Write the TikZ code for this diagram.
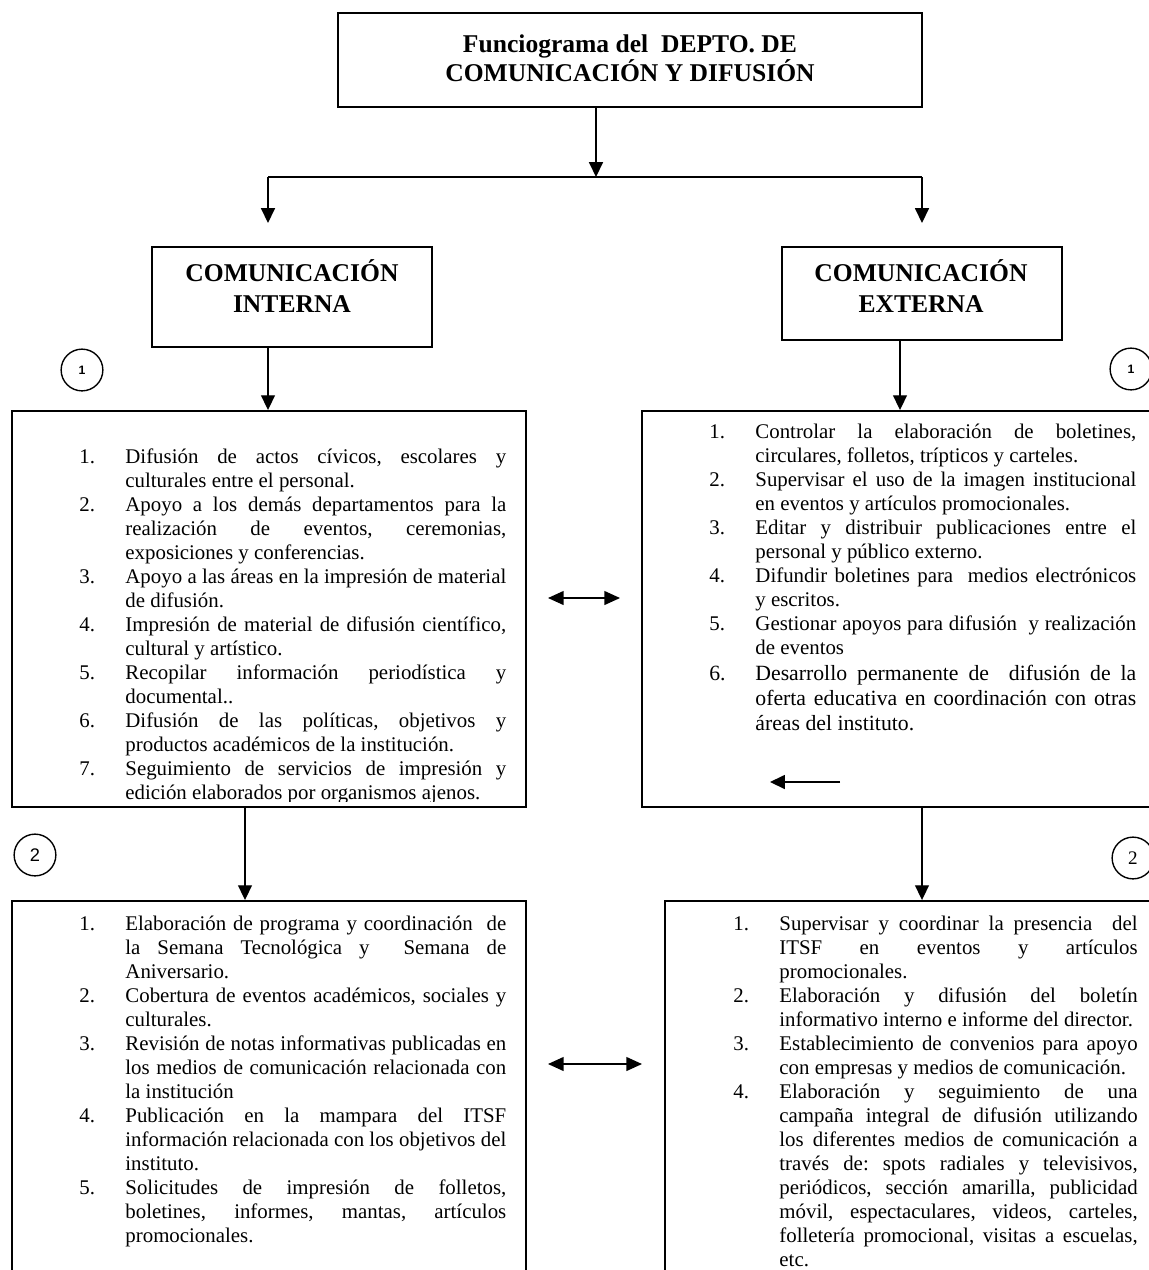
\documentclass[tikz,border=0pt]{standalone}
\usepackage{fontspec}
\setmainfont{Liberation Serif}
\newfontfamily\arialfont{Liberation Sans}
\usetikzlibrary{arrows.meta,fit}
\newcommand{\fitem}[2]{\noindent\tolerance=9999\relax\hyphenpenalty=10000\relax\frenchspacing
  \hangindent=26.5pt\hangafter=1\makebox[26.5pt][l]{#1}#2\par}
\tikzset{
  box/.style={draw, line width=1.1pt, inner sep=0pt},
  head/.style={align=center, font=\fontsize{14.7}{17.8}\selectfont\bfseries},
  titulo/.style={align=center, font=\fontsize{14.7}{15.5}\selectfont\bfseries},
  lista/.style={anchor=base west, inner sep=0pt, align=justify, font=\fontsize{12}{13.8}\selectfont},
  numcirc/.style={draw, circle, line width=0.8pt, minimum size=24pt, inner sep=0pt},
  arr/.style={-{Triangle[length=8.5pt,width=8pt]}, line width=0.8pt},
  darr/.style={{Triangle[length=9pt,width=8pt]}-{Triangle[length=9pt,width=8pt]}, line width=0.8pt}
}
\begin{document}
\begin{tikzpicture}[x=0.575pt, y=-0.575pt]
  \useasboundingbox (0,0) rectangle (1149,1270);
  \clip (0,0) rectangle (1149,1270);
  \node[box, fit={(338,13) (922,107)}] (depto) {};
  \node[box, fit={(152,247) (432,347)}] (cint) {};
  \node[box, fit={(782,247) (1062,340)}] (cext) {};
  \node[titulo] (deptotxt) at (630,58) {Funciograma del\ \ DEPTO. DE\\COMUNICACIÓN Y DIFUSIÓN};
  \node[head] (cinttxt) at (292,286) {COMUNICACIÓN\\INTERNA};
  \node[head] (cexttxt) at (921,286) {COMUNICACIÓN\\EXTERNA};
  \node[box, fit={(12,411) (526,807)}] (int1) {};
  \node[box, fit={(642,411) (1200,807)}] (ext1) {};
  \node[box, fit={(12,901) (526,1300)}] (int2) {};
  \node[box, fit={(665,901) (1200,1300)}] (ext2) {};
  \node[numcirc, font=\arialfont\bfseries\fontsize{7}{8}\selectfont] (c1i) at (82,370) {1};
  \node[numcirc, font=\arialfont\bfseries\fontsize{7}{8}\selectfont] (c1e) at (1131,369) {1};
  \node[numcirc, font=\arialfont\fontsize{10.5}{12}\selectfont] (c2i) at (35,855) {2};
  \node[numcirc, font=\fontsize{11}{12}\selectfont] (c2e) at (1133,858) {2};
  \coordinate (split) at (596,177);
  \coordinate (lsplit) at (268,177);
  \coordinate (rsplit) at (922,177);
  \coordinate (ltip) at (268,223);
  \coordinate (rtip) at (922,223);
  \coordinate (xe1) at (900,0);
  \coordinate (xi2) at (245,0);
  \coordinate (xe2) at (922,0);
  \coordinate (da1) at (548,598);
  \coordinate (db1) at (620,598);
  \coordinate (da2) at (548,1064);
  \coordinate (db2) at (642,1064);
  \coordinate (sa) at (840,782);
  \coordinate (sb) at (770,782);
  \begin{scope}
    \draw[arr] (depto.south -| split) to (split);
    \draw[line width=0.8pt] (lsplit) to (rsplit);
    \draw[arr] (lsplit) to (ltip);
    \draw[arr] (rsplit) to (rtip);
    \draw[arr] (cint.south -| ltip) to (int1.north -| ltip);
    \draw[arr] (cext.south -| xe1) to (ext1.north -| xe1);
    \draw[arr] (int1.south -| xi2) to (int2.north -| xi2);
    \draw[arr] (ext1.south -| xe2) to (ext2.north -| xe2);
    \draw[darr] (da1) to (db1);
    \draw[darr] (da2) to (db2);
    \draw[arr] (sa) to (sb);
  \end{scope}
  \begin{scope}
    \clip (int1.north west) rectangle ([yshift=3.5pt]int1.south east);
    \node[lista, text width=245.5pt] (int1txt) at (79,463) {%
      \fitem{1.}{Difusión de actos cívicos, escolares y\linebreak culturales entre el personal.}
      \fitem{2.}{Apoyo a los demás departamentos para la\linebreak realización de eventos, ceremonias,\linebreak exposiciones y conferencias.}
      \fitem{3.}{Apoyo a las áreas en la impresión de material\linebreak de difusión.}
      \fitem{4.}{Impresión de material de difusión científico,\linebreak cultural y artístico.}
      \fitem{5.}{Recopilar información periodística y\linebreak documental..}
      \fitem{6.}{Difusión de las políticas, objetivos y\linebreak productos académicos de la institución.}
      \fitem{7.}{Seguimiento de servicios de impresión y\linebreak edición elaborados por organismos ajenos.}};
  \end{scope}
  \node[lista, text width=245.5pt] (ext1txt) at (709,438) {%
    \fitem{1.}{Controlar la elaboración de boletines,\linebreak circulares, folletos, trípticos y carteles.}
    \fitem{2.}{Supervisar el uso de la imagen institucional\linebreak en eventos y artículos promocionales.}
    \fitem{3.}{Editar y distribuir publicaciones entre el\linebreak personal y público externo.}
    \fitem{4.}{Difundir boletines para\ \ medios electrónicos\linebreak y escritos.}
    \fitem{5.}{Gestionar apoyos para difusión\ \ y realización\linebreak de eventos}
    \vspace{1pt}\fontsize{12.5}{14.4}\selectfont
    \fitem{6.}{Desarrollo permanente de\ \ difusión de la\linebreak oferta educativa en coordinación con otras\linebreak áreas del instituto.}};
  \node[lista, text width=245.5pt] (int2txt) at (79,930) {%
    \fitem{1.}{Elaboración de programa y coordinación\ \ de\linebreak la Semana Tecnológica y\ \ Semana de\linebreak Aniversario.}
    \fitem{2.}{Cobertura de eventos académicos, sociales y\linebreak culturales.}
    \fitem{3.}{Revisión de notas informativas publicadas en\linebreak los medios de comunicación relacionada con\linebreak la institución}
    \fitem{4.}{Publicación en la mampara del ITSF\linebreak información relacionada con los objetivos del\linebreak instituto.}
    \fitem{5.}{Solicitudes de impresión de folletos,\linebreak boletines, informes, mantas, artículos\linebreak promocionales.}};
  \node[lista, text width=232.5pt] (ext2txt) at (733,930) {%
    \fitem{1.}{Supervisar y coordinar la presencia\ \ del\linebreak ITSF en eventos y artículos\linebreak promocionales.}
    \fitem{2.}{Elaboración y difusión del boletín\linebreak informativo interno e informe del director.}
    \fitem{3.}{Establecimiento de convenios para apoyo\linebreak con empresas y medios de comunicación.}
    \fitem{4.}{Elaboración y seguimiento de una\linebreak campaña integral de difusión utilizando\linebreak los diferentes medios de comunicación a\linebreak través de: spots radiales y televisivos,\linebreak periódicos, sección amarilla, publicidad\linebreak móvil, espectaculares, videos, carteles,\linebreak folletería promocional, visitas a escuelas,\linebreak etc.}};
\end{tikzpicture}
\end{document}
